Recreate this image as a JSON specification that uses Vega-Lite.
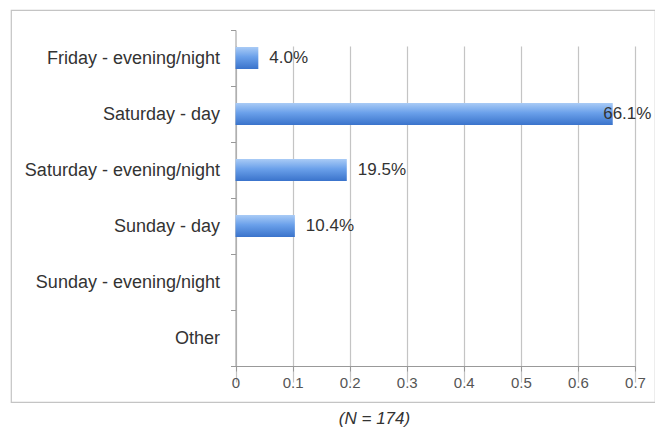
{
  "$schema": "https://vega.github.io/schema/vega-lite/v6.json",
  "autosize": {"type": "none"},
  "padding": {"left": 11, "top": 10, "right": 0, "bottom": 26},
  "width": 644,
  "height": 392,
  "background": "white",
  "config": {
    "view": {"stroke": "#c4c4c4", "strokeWidth": 1.2},
    "font": "Liberation Sans"
  },
  "data": {
    "values": [
      {"slot": "Friday - evening/night", "value": 0.04, "label": "4.0%"},
      {"slot": "Saturday - day", "value": 0.661, "label": "66.1%"},
      {"slot": "Saturday - evening/night", "value": 0.195, "label": "19.5%"},
      {"slot": "Sunday - day", "value": 0.104, "label": "10.4%"},
      {"slot": "Sunday - evening/night", "value": 0, "label": ""},
      {"slot": "Other", "value": 0, "label": ""}
    ]
  },
  "encoding": {
    "y": {
      "field": "slot",
      "type": "nominal",
      "sort": null,
      "title": null,
      "scale": {"range": [20, 356], "paddingInner": 0, "paddingOuter": 0},
      "axis": {
        "orient": "left",
        "offset": -224.5,
        "tickBand": "extent",
        "tickSize": 5,
        "tickColor": "#999999",
        "domainColor": "#999999",
        "labelPadding": 11,
        "labelFontSize": 18,
        "labelColor": "#333333",
        "labelFont": "Liberation Sans",
        "labelLimit": 300,
        "grid": false
      }
    }
  },
  "layer": [
    {
      "mark": {
        "type": "bar",
        "size": 22,
        "color": {
          "gradient": "linear",
          "x1": 0, "y1": 0, "x2": 0, "y2": 1,
          "stops": [
            {"offset": 0, "color": "#a9cbf6"},
            {"offset": 0.45, "color": "#6aa0ea"},
            {"offset": 1, "color": "#3a73cb"}
          ]
        }
      },
      "encoding": {
        "x": {
          "field": "value",
          "type": "quantitative",
          "scale": {"domain": [0, 0.7], "range": [224.5, 624], "nice": false, "zero": true},
          "axis": {
            "orient": "bottom",
            "offset": -36,
            "values": [0, 0.1, 0.2, 0.3, 0.4, 0.5, 0.6, 0.7],
            "format": "~g",
            "grid": true,
            "gridColor": "#c4c4c4",
            "gridWidth": 1.2,
            "domainColor": "#999999",
            "tickColor": "#999999",
            "tickSize": 5,
            "labelFlush": false,
            "labelAlign": "center",
            "labelFontSize": 15,
            "labelColor": "#555555",
            "labelFont": "Liberation Sans",
            "labelPadding": 4,
            "title": "(N = 174)",
            "titleFont": "Liberation Sans",
            "titleFontStyle": "italic",
            "titleFontWeight": "normal",
            "titleFontSize": 17,
            "titleColor": "#333333",
            "titleX": 363,
            "titleY": 52,
            "titleAlign": "center",
            "titleBaseline": "middle"
          }
        }
      }
    },
    {
      "transform": [
        {"filter": "datum.value > 0"},
        {"calculate": "min(datum.value, 0.625)", "as": "labelX"}
      ],
      "mark": {
        "type": "text",
        "align": "left",
        "baseline": "middle",
        "dx": 11,
        "fontSize": 17,
        "color": "#333333",
        "font": "Liberation Sans"
      },
      "encoding": {
        "x": {"field": "labelX", "type": "quantitative"},
        "text": {"field": "label"}
      }
    }
  ]
}
